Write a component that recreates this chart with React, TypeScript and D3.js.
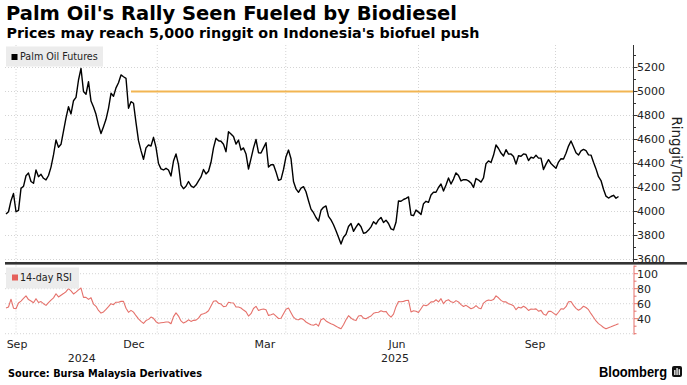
import React from "react";
import * as d3 from "d3";

// Palm oil futures (ringgit/ton), one value per trading day, evenly spaced
const priceValues = [
  3979, 3998, 4090, 4150, 3998, 4010, 4193, 4210, 4298, 4320,
  4250, 4235, 4346, 4290, 4310, 4277, 4263, 4300, 4370, 4471,
  4596, 4535, 4560, 4670, 4780, 4873, 4813, 4923, 4951, 5096,
  5193, 5000, 4977, 5082, 4920, 4870, 4810, 4720, 4650, 4707,
  4768, 4860, 4985, 4960, 5030, 5073, 5138, 5123, 5110, 4860,
  4915, 4902, 4740, 4590, 4507, 4435, 4530, 4554, 4546, 4618,
  4535, 4400, 4355, 4346, 4360, 4346, 4296, 4420, 4480, 4390,
  4220, 4190, 4210, 4250, 4213, 4200, 4220, 4255, 4288, 4350,
  4313, 4335, 4410, 4530, 4610, 4590, 4585, 4560, 4498, 4665,
  4646, 4625, 4562, 4595, 4512, 4530, 4480, 4354, 4440, 4530,
  4600, 4490, 4488, 4530, 4573, 4370, 4390, 4390, 4330, 4260,
  4268, 4350, 4457, 4512, 4440, 4250, 4188, 4160, 4195, 4207,
  4165, 4090, 4020, 3990, 3950, 3920, 4010, 4035, 4046, 3960,
  3930, 3890, 3840, 3785, 3729, 3785, 3810, 3875, 3900, 3835,
  3870, 3900, 3873, 3818, 3825, 3845, 3872, 3915, 3895, 3930,
  3951, 3908, 3928, 3900, 3855, 3846, 3910, 4088, 4085, 4100,
  4110, 4122, 3971, 3965, 4012, 3995, 3975, 4065, 4085, 4076,
  4138, 4160, 4160, 4200, 4229, 4170, 4220, 4280, 4229, 4270,
  4322, 4300, 4255, 4265, 4265, 4255, 4238, 4200, 4275, 4262,
  4245, 4280, 4398, 4422, 4408, 4468, 4554, 4525, 4487, 4463,
  4515, 4478, 4480, 4458, 4395, 4465, 4460, 4480, 4475, 4425,
  4452, 4445, 4468, 4445, 4445, 4350, 4395, 4432, 4400, 4380,
  4360, 4412, 4440, 4437, 4485, 4545, 4588, 4540, 4490, 4470,
  4505, 4517, 4507, 4472, 4470, 4410, 4355, 4290, 4258, 4185,
  4128, 4112, 4125, 4135, 4110, 4125,
];

// 14-day RSI, same trading days
const rsiValues = [
  54.2, 55.6, 66, 54, 53.3, 61, 63.5, 67, 70.5, 65.5,
  63.5, 61.3, 66.7, 61.5, 62.8, 60, 57.8, 61.5, 64.8, 67.8,
  73.3, 69, 71.3, 73.5, 76, 80, 77, 73, 75.5, 78.5,
  80.9, 68.5, 68.5, 65.8, 68, 59.5, 56.5, 51, 47.5, 49,
  52.4, 56, 60, 58.7, 62, 62, 63.1, 63.1, 54, 48.5,
  51.1, 48.7, 44, 39.8, 36.5, 33.8, 37.5, 39.1, 42.2, 40.5,
  36, 34, 34.5, 35, 35.5, 35.6, 33.3, 42.7, 47.7, 43.5,
  37, 34.2, 36, 38.5, 36.4, 37.8, 38.1, 40.7, 45.5, 46.7,
  48, 50.6, 56.9, 63.2, 64, 60.6, 59.5, 56.1, 56.5, 62,
  61.3, 61, 55.7, 55.5, 54.3, 51.5, 49.2, 43.5, 46.7, 53.6,
  56.5, 51, 52.3, 52.9, 51.8, 44.4, 45.3, 46.5, 43.4, 40.3,
  40.5, 46.5, 52.6, 54.2, 48, 42, 39, 38.5, 40.4, 38.8,
  35.6, 33.6, 32, 31.3, 33, 30.2, 38.5, 40.4, 37, 34.9,
  33.3, 31.9, 30, 28.1, 26.7, 32, 38.5, 44, 40.9, 38.5,
  37.5, 43.5, 44.3, 40.8, 40, 42, 43.6, 47.2, 48.2, 48.5,
  50.5, 49.2, 49.7, 45, 42.2, 46, 56, 62.8, 62.6, 63.1,
  64.2, 64.4, 49, 50.5, 50, 48.2, 53.3, 58.2, 57.2, 59,
  62.5, 62.4, 65.3, 62.5, 66.7, 60, 64, 65.2, 62.5, 61.5,
  64.1, 62.4, 58.7, 56.3, 57.8, 55.5, 53.2, 54.5, 57.5, 54.4,
  53.3, 60.8, 63.5, 65, 64.3, 65.5, 70.5, 67.9, 64.4, 62.4,
  62.5, 60, 58.8, 57.2, 52, 55.4, 54.2, 56.6, 54.5, 51,
  52.9, 52.7, 53.1, 50, 51.1, 46.1, 44.5, 49.8, 49.8, 47.4,
  44.7, 48.6, 53.3, 52.8, 56, 62.5, 63, 57.8, 53.8, 51.3,
  53.3, 56.6, 54.9, 52, 46.7, 42, 37, 33.5, 31.1, 28.3,
  26.5, 28, 29.2, 30.5, 31.8, 33.2,
];

const priceTickValues = [3600, 3800, 4000, 4200, 4400, 4600, 4800, 5000, 5200];
const priceMinorTickValues = [3600, 3700, 3800, 3900, 4000, 4100, 4200, 4300, 4400, 4500, 4600, 4700, 4800, 4900, 5000, 5100, 5200, 5300];
const rsiTickValues = [40, 60, 80, 100];
const rsiGridValues = [20, 40, 60, 80, 100];
const rsiMinorTickValues = [20, 30, 40, 50, 60, 70, 80, 90, 100, 110];

// quarter gridlines and month labels, in trading-day index units
const gridDayIdx = [4, 60.5, 111.9, 165, 219.8];
const monthLabels = ["Sep", "Dec", "Mar", "Jun", "Sep"];
const monthLabelIdx = [4.4, 51.2, 103.6, 156.4, 211.6];
const yearLabels = ["2024", "2025"];
const yearLabelIdx = [30.3, 155.6];

const targetPrice = 5000;
const targetStartIdx = 50;

const titleText = "Palm Oil's Rally Seen Fueled by Biodiesel";
const subtitleText = "Prices may reach 5,000 ringgit on Indonesia's biofuel push";
const sourceText = "Source: Bursa Malaysia Derivatives";

const W = 687;
const H = 385;
const FONT = "'DejaVu Sans', sans-serif";

export default function App() {
  const plotLeft = 5;
  const plotRight = 633.5;
  const topPanel = { top: 45, bottom: 262 };
  const rsiPanel = { top: 265.5, bottom: 333.7 };

  const x = d3.scaleLinear().domain([0, priceValues.length - 1]).range([6, 618.5]);
  const yP = d3.scaleLinear().domain([3600, 5200]).range([259.5, 67.5]);
  const yR = d3.scaleLinear().domain([20, 100]).range([333.7, 273.7]);

  const priceLine = d3.line<number>().x((_, i) => x(i)).y((d) => yP(d));
  const rsiLine = d3.line<number>().x((_, i) => x(i)).y((d) => yR(d));

  const gridStyle = { stroke: "#c9c9c9", strokeWidth: 0.8, strokeDasharray: "1,2" };

  return (
    <svg
      width={W}
      height={H}
      viewBox={`0 0 ${W} ${H}`}
      style={{ position: "absolute", left: 0, top: 0, background: "#fff" }}
    >
      <rect x={0} y={0} width={W} height={H} fill="#fff" />

      {/* titles */}
      <text x={6} y={20} fontFamily={FONT} fontWeight="bold" fontSize={19} fill="#000"
        textLength={451} lengthAdjust="spacingAndGlyphs">{titleText}</text>
      <text x={6.5} y={38.3} fontFamily={FONT} fontWeight="bold" fontSize={14.5} fill="#000"
        textLength={473} lengthAdjust="spacingAndGlyphs">{subtitleText}</text>

      {/* price panel grid */}
      {priceTickValues.map((v) => (
        <line key={"pg" + v} x1={plotLeft} x2={plotRight} y1={yP(v)} y2={yP(v)} {...gridStyle} />
      ))}
      {gridDayIdx.map((d, i) => (
        <line key={"vg" + i} x1={x(d)} x2={x(d)} y1={topPanel.top} y2={topPanel.bottom} {...gridStyle} />
      ))}

      {/* rsi panel grid */}
      {rsiGridValues.map((v) => (
        <line key={"rg" + v} x1={plotLeft} x2={plotRight} y1={yR(v)} y2={yR(v)} {...gridStyle} />
      ))}
      {gridDayIdx.map((d, i) => (
        <line key={"rvg" + i} x1={x(d)} x2={x(d)} y1={rsiPanel.top} y2={rsiPanel.bottom + 1} {...gridStyle} />
      ))}

      {/* target line */}
      <line x1={x(targetStartIdx)} x2={plotRight} y1={yP(targetPrice)} y2={yP(targetPrice)}
        stroke="#f2b552" strokeWidth={2} />

      {/* series */}
      <path d={priceLine(priceValues) || ""} fill="none" stroke="#000" strokeWidth={1.4} strokeLinejoin="round" />
      <path d={rsiLine(rsiValues) || ""} fill="none" stroke="#e5716b" strokeWidth={1.1} strokeLinejoin="round" />

      {/* legends */}
      <rect x={6} y={46.5} width={97} height={20} fill="#ececec" />
      <rect x={11.5} y={54} width={6} height={6} fill="#000" />
      <text x={20} y={60} fontFamily={FONT} fontSize={9.6} fill="#222">Palm Oil Futures</text>

      <rect x={6} y={267.5} width={73} height={21} fill="#ececec" />
      <rect x={12} y={274.5} width={6} height={6} fill="#e5605b" />
      <text x={20} y={281.3} fontFamily={FONT} fontSize={9.6} fill="#222">14-day RSI</text>

      {/* divider */}
      <rect x={5} y={262} width={W - 5} height={2.6} fill="#333" />

      {/* price axis */}
      <line x1={plotRight} x2={plotRight} y1={topPanel.top} y2={topPanel.bottom} stroke="#333" strokeWidth={1} />
      {priceMinorTickValues.map((v) => (
        <line key={"pt" + v} x1={plotRight} x2={plotRight + (priceTickValues.includes(v) ? 4 : 2.5)}
          y1={yP(v)} y2={yP(v)} stroke="#333" strokeWidth={1} />
      ))}
      {priceTickValues.map((v) => (
        <text key={"pl" + v} x={637} y={yP(v)} dy="0.36em" fontFamily={FONT} fontSize={11} fill="#222">
          {v}
        </text>
      ))}
      <text transform="translate(672,154) rotate(90)" textAnchor="middle"
        fontFamily={FONT} fontSize={13.5} fill="#222">Ringgit/Ton</text>

      {/* rsi axis */}
      <line x1={plotRight + 0.5} x2={plotRight + 0.5} y1={rsiPanel.top} y2={rsiPanel.bottom + 1} stroke="#e5716b" strokeWidth={1} />
      {rsiMinorTickValues.map((v) => (
        <line key={"rt" + v} x1={plotRight + 0.5} x2={plotRight + (rsiTickValues.includes(v) ? 4.5 : 3)}
          y1={yR(v)} y2={yR(v)} stroke="#e5716b" strokeWidth={1} />
      ))}
      {rsiTickValues.map((v) => (
        <text key={"rl" + v} x={637} y={yR(v)} dy="0.36em" fontFamily={FONT} fontSize={11} fill="#222">
          {v}
        </text>
      ))}

      {/* x axis labels */}
      {monthLabels.map((m, i) => (
        <text key={"ml" + i} x={x(monthLabelIdx[i])} y={348} textAnchor="middle" fontFamily={FONT} fontSize={11} fill="#222">
          {m}
        </text>
      ))}
      {yearLabels.map((yv, i) => (
        <text key={"yl" + i} x={x(yearLabelIdx[i])} y={362} textAnchor="middle" fontFamily={FONT} fontSize={11} fill="#222">
          {yv}
        </text>
      ))}

      {/* footer */}
      <text x={8} y={377} fontFamily={FONT} fontWeight="bold" fontSize={10.5} fill="#000"
        textLength={194} lengthAdjust="spacingAndGlyphs">{sourceText}</text>
      <text x={599} y={376.5} fontFamily="'Liberation Sans', Arial, sans-serif" fontWeight="bold" fontSize={14.5} fill="#000"
        textLength={68} lengthAdjust="spacingAndGlyphs">Bloomberg</text>
      <g transform="translate(672,366)">
        <rect x={0} y={0} width={10} height={11} rx={2} fill="#111" />
        <rect x={2.2} y={4} width={1.3} height={5} fill="#fff" />
        <rect x={4.4} y={2} width={1.3} height={7} fill="#fff" />
        <rect x={6.6} y={3.2} width={1.3} height={5.8} fill="#fff" />
      </g>
    </svg>
  );
}
